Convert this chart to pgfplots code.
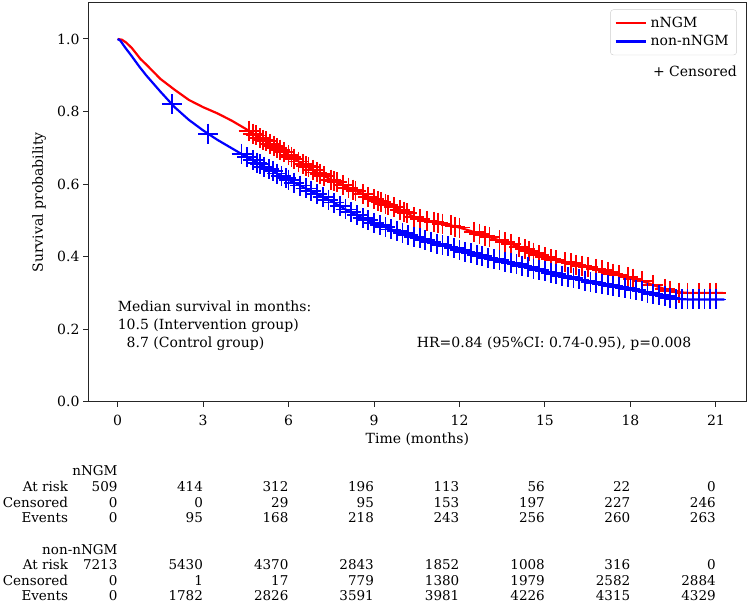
\documentclass[border=0pt]{standalone}
\usepackage{pgfplots}
\usepackage{pgfplotstable}
\pgfplotsset{compat=1.18}
\usepackage{fontspec}
\setmainfont{DejaVu Serif}
\newcommand\mainfont{\fontsize{14bp}{16.8bp}\selectfont}
\newcommand\tabfont{\fontsize{13.5bp}{15bp}\selectfont}
\tikzset{num/.style={anchor=base east, inner sep=0pt, font=\tabfont}}

\pgfplotstableread{
t S
0 1.000
0.15 0.998
0.3 0.990
0.5 0.975
0.8 0.945
1.0 0.930
1.5 0.890
2.0 0.860
2.5 0.832
3.0 0.812
3.5 0.795
4.0 0.775
4.5 0.752
5.0 0.726
5.5 0.705
6.0 0.680
6.5 0.655
7.0 0.632
7.5 0.612
8.0 0.594
8.5 0.576
9.0 0.558
9.5 0.542
10.0 0.526
10.5 0.505
11.0 0.497
11.5 0.490
12.0 0.480
12.5 0.468
13.0 0.455
13.5 0.442
14.0 0.430
14.5 0.414
15.0 0.398
15.5 0.388
16.0 0.380
16.5 0.371
17.0 0.362
17.5 0.351
18.0 0.341
18.5 0.330
19.0 0.316
19.5 0.303
20.0 0.300
21.24 0.300
}\redcurve

\pgfplotstableread{
t S
4.6 0.747
4.75 0.739
4.85 0.734
5.0 0.726
5.1 0.722
5.2 0.718
5.35 0.711
5.5 0.705
5.6 0.700
5.7 0.695
5.85 0.688
6.0 0.680
6.1 0.675
6.2 0.670
6.35 0.662
6.5 0.655
6.6 0.650
6.7 0.646
6.85 0.639
7.0 0.632
7.1 0.628
7.25 0.622
7.5 0.612
7.6 0.608
7.7 0.605
7.9 0.598
8.1 0.590
8.25 0.585
8.35 0.581
8.6 0.572
8.8 0.565
9.0 0.558
9.15 0.553
9.25 0.550
9.4 0.545
9.5 0.542
9.7 0.536
9.9 0.529
10.05 0.524
10.15 0.520
10.4 0.509
10.6 0.503
10.85 0.499
11.1 0.496
11.25 0.494
11.4 0.491
11.7 0.486
11.85 0.483
12.0 0.480
12.5 0.468
12.7 0.463
12.9 0.458
13.05 0.454
13.4 0.445
13.6 0.440
13.8 0.435
14.1 0.427
14.3 0.420
14.45 0.416
14.6 0.411
14.8 0.404
15.0 0.398
15.2 0.394
15.4 0.390
15.7 0.385
15.9 0.382
16.1 0.378
16.3 0.375
16.5 0.371
16.8 0.366
17.0 0.362
17.2 0.358
17.4 0.353
17.6 0.349
17.9 0.343
18.1 0.339
18.4 0.332
18.8 0.322
19.2 0.311
19.4 0.306
19.7 0.301
20.0 0.300
20.4 0.300
20.8 0.300
21.0 0.300
}\redcens

\pgfplotstableread{
t S
0 1.000
0.1 0.995
0.25 0.978
0.5 0.952
0.75 0.925
1.0 0.900
1.5 0.855
2.0 0.812
2.5 0.777
3.0 0.748
3.5 0.722
4.0 0.699
4.5 0.676
5.0 0.655
5.5 0.633
6.0 0.612
6.5 0.592
7.0 0.572
7.5 0.553
8.0 0.530
8.5 0.510
9.0 0.493
9.5 0.478
10.0 0.464
10.5 0.452
11.0 0.441
11.5 0.430
12.0 0.418
12.5 0.407
13.0 0.397
13.5 0.388
14.0 0.379
14.5 0.369
15.0 0.359
15.5 0.349
16.0 0.340
16.5 0.332
17.0 0.324
17.5 0.317
18.0 0.310
18.5 0.303
19.0 0.295
19.5 0.284
20.0 0.282
21.3 0.282
}\bluecurve

\pgfplotstableread{
t S
1.9 0.820
3.18 0.739
4.35 0.683
4.55 0.674
4.75 0.666
4.9 0.659
5.0 0.655
5.15 0.648
5.3 0.642
5.45 0.635
5.6 0.629
5.75 0.622
5.9 0.616
6.0 0.612
6.2 0.604
6.4 0.596
6.6 0.588
6.8 0.580
7.0 0.572
7.2 0.564
7.4 0.557
7.6 0.549
7.8 0.539
8.0 0.530
8.2 0.522
8.4 0.514
8.6 0.506
8.8 0.500
9.0 0.493
9.2 0.487
9.4 0.481
9.6 0.475
9.8 0.470
10.0 0.464
10.2 0.459
10.4 0.454
10.6 0.450
10.8 0.445
11.0 0.441
11.2 0.436
11.4 0.432
11.6 0.428
11.8 0.423
12.0 0.418
12.2 0.413
12.4 0.409
12.6 0.405
12.8 0.401
13.0 0.397
13.2 0.393
13.4 0.390
13.6 0.386
13.8 0.382
14.0 0.379
14.2 0.375
14.4 0.371
14.6 0.367
14.8 0.363
15.0 0.359
15.2 0.355
15.4 0.351
15.6 0.347
15.8 0.343
16.0 0.340
16.2 0.337
16.4 0.334
16.6 0.330
16.8 0.327
17.0 0.324
17.2 0.321
17.4 0.318
17.6 0.316
17.8 0.313
18.0 0.310
18.2 0.307
18.4 0.304
18.6 0.301
18.8 0.298
19.0 0.295
19.2 0.291
19.4 0.286
19.6 0.283
19.8 0.282
20.0 0.282
20.2 0.282
20.4 0.282
20.6 0.282
20.8 0.282
21.0 0.282
}\bluecens

\newcommand\trow[9]{%
  \node[num] at (axis cs:0,#1) {#2};
  \node[num] at (axis cs:3,#1) {#3};
  \node[num] at (axis cs:6,#1) {#4};
  \node[num] at (axis cs:9,#1) {#5};
  \node[num] at (axis cs:12,#1) {#6};
  \node[num] at (axis cs:15,#1) {#7};
  \node[num] at (axis cs:18,#1) {#8};
  \node[num] at (axis cs:21,#1) {#9};
}

\begin{document}
\begin{tikzpicture}[font=\mainfont]
\path[use as bounding box] (0,0) rectangle (750bp,-604bp);
\begin{axis}[
  at={(88bp,-2.7bp)}, anchor=north west,
  width=658.7bp, height=399bp, scale only axis,
  xmin=-1.04, xmax=22.08, ymin=0, ymax=1.1,
  xtick={0,3,6,9,12,15,18,21},
  ytick={0,0.2,0.4,0.6,0.8,1.0},
  yticklabel style={/pgf/number format/.cd, fixed, fixed zerofill, precision=1},
  xticklabel style={yshift=-5bp},
  /pgf/number format/assume math mode=true,
  every tick label/.append style={font=\mainfont},
  tick align=outside, major tick length=5bp,
  xtick pos=bottom, ytick pos=left,
  axis line style={black!85, line width=1bp},
  every tick/.style={black!85, line width=1bp},
  clip=false,
  xlabel={Time (months)},
  ylabel={Survival probability},
  xlabel style={at={(axis description cs:0.5,0)}, anchor=base, yshift=-41.3bp, font=\mainfont},
  ylabel style={at={(axis description cs:-0.0744,0.5)}, anchor=center, font=\mainfont},
  legend image code/.code={\draw[#1, line width=2.2bp] (0bp,0bp) -- (30bp,0bp);},
  legend style={at={(axis description cs:0.985,0.983)}, anchor=north east,
    draw=black!20, rounded corners=3bp, fill=white, font=\mainfont,
    inner xsep=4bp, inner ysep=6.5bp, row sep=4.5bp,
    nodes={inner xsep=4bp, inner ysep=1bp}, cells={anchor=west}},
]
\addlegendimage{red}
\addlegendentry{nNGM}
\addlegendimage{blue}
\addlegendentry{non-nNGM}

\addplot[red, line width=2.2bp, forget plot] table[x=t,y=S] {\redcurve};
\addplot[red, only marks, mark=+, mark size=10bp, mark options={line width=1.8bp}, forget plot] table[x=t,y=S] {\redcens};
\addplot[blue, line width=2.2bp, forget plot] table[x=t,y=S] {\bluecurve};
\addplot[blue, only marks, mark=+, mark size=10bp, mark options={line width=1.8bp}, forget plot] table[x=t,y=S] {\bluecens};

\node[anchor=base west, inner sep=0pt] at (axis cs:0,0.2496) {Median survival in months:};
\node[anchor=base west, inner sep=0pt] at (axis cs:0,0.2001) {10.5 (Intervention group)};
\node[anchor=base west, inner sep=0pt] at (axis cs:0,0.1505) {\phantom{1}8.7 (Control group)};
\node[anchor=base west, inner sep=0pt] at (axis cs:10.5,0.1505) {HR=0.84 (95\%CI: 0.74-0.95), p=0.008};
\node[anchor=base east, inner sep=0pt] at (axis cs:21.74,0.8963) {+ Censored};

\node[num] at (axis cs:0,-0.2044) {nNGM};
\node[num] at (axis cs:-1.734,-0.2477) {At risk};
\node[num] at (axis cs:-1.734,-0.2906) {Censored};
\node[num] at (axis cs:-1.734,-0.3338) {Events};
\trow{-0.2477}{509}{414}{312}{196}{113}{56}{22}{0}
\trow{-0.2906}{0}{0}{29}{95}{153}{197}{227}{246}
\trow{-0.3338}{0}{95}{168}{218}{243}{256}{260}{263}

\node[num] at (axis cs:0,-0.4199) {non-nNGM};
\node[num] at (axis cs:-1.734,-0.4631) {At risk};
\node[num] at (axis cs:-1.734,-0.5063) {Censored};
\node[num] at (axis cs:-1.734,-0.5493) {Events};
\trow{-0.4631}{7213}{5430}{4370}{2843}{1852}{1008}{316}{0}
\trow{-0.5063}{0}{1}{17}{779}{1380}{1979}{2582}{2884}
\trow{-0.5493}{0}{1782}{2826}{3591}{3981}{4226}{4315}{4329}
\end{axis}
\end{tikzpicture}
\end{document}
